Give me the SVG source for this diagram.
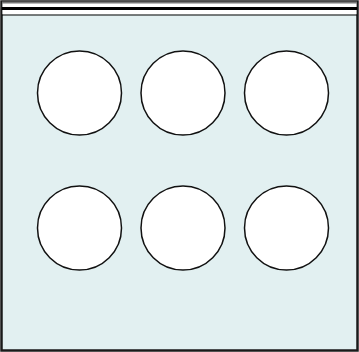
<svg xmlns="http://www.w3.org/2000/svg" width="359" height="352" viewBox="0 0 359 352">
<style>
.well{fill:#ffffff;stroke:#111111;stroke-width:1.5}
</style>
<rect x="0" y="0" width="359" height="352" fill="#ffffff"/>
<rect x="1.5" y="1.5" width="356" height="349" fill="#e2f0f1" stroke="#1a1a1a" stroke-width="2.5"/>
<rect x="2.5" y="2.5" width="354" height="12" fill="#ffffff"/>
<line x1="2" y1="2.5" x2="357" y2="2.5" stroke="#777777" stroke-width="2"/>
<line x1="2" y1="8.5" x2="357" y2="8.5" stroke="#000000" stroke-width="3"/>
<line x1="2" y1="15" x2="357" y2="15" stroke="#000000" stroke-width="1"/>
<g id="well-1"><circle class="well" cx="79.5" cy="93" r="42"/></g>
<g id="well-2"><circle class="well" cx="183" cy="93" r="42"/></g>
<g id="well-3"><circle class="well" cx="286.5" cy="93" r="42"/></g>
<g id="well-4"><circle class="well" cx="79.5" cy="228" r="42"/></g>
<g id="well-5"><circle class="well" cx="183" cy="228" r="42"/></g>
<g id="well-6"><circle class="well" cx="286.5" cy="228" r="42"/></g>
<g id="connectors"></g>
</svg>
